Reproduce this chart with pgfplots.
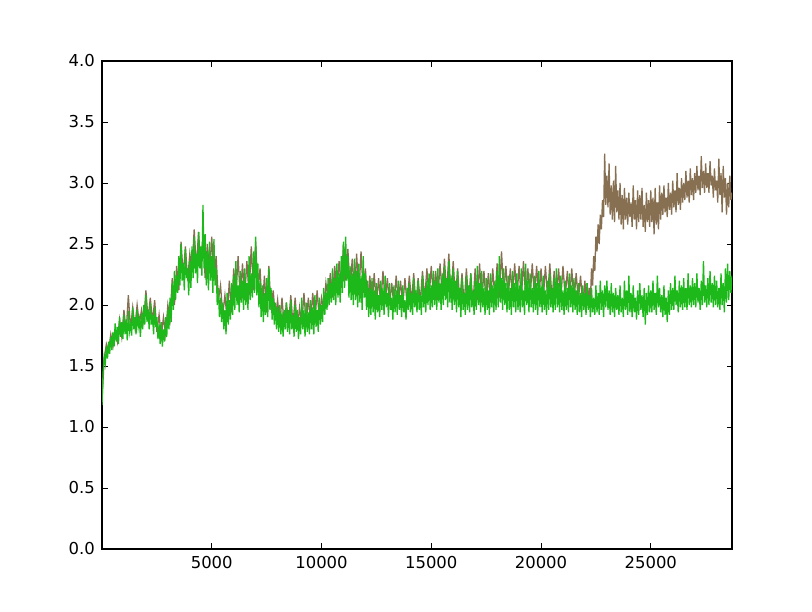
\documentclass[border=0pt]{standalone}
\usepackage{pgfplots}
\pgfplotsset{compat=1.18}
\usepackage{fontspec}
\setmainfont{DejaVu Sans}
\definecolor{mbrown}{RGB}{135,111,82}
\definecolor{mgreen}{RGB}{29,184,26}
\begin{document}
\begin{tikzpicture}
\path[use as bounding box] (-102bp,-63bp) rectangle (710bp,549bp);
\begin{axis}[
  at={(0,0)}, anchor=south west,
  scale only axis, width=630bp, height=488bp,
  xmin=0, xmax=28700, ymin=0, ymax=4,
  xtick={5000,10000,15000,20000,25000},
  ytick={0,0.5,1,1.5,2,2.5,3,3.5,4},
  /pgf/number format/1000 sep={},
  /pgf/number format/assume math mode=true,
  tick label style={font=\fontsize{16.5}{20}\selectfont},
  xticklabel style={inner sep=0pt, yshift=-7bp},
  yticklabel style={inner sep=0pt, xshift=-7bp, /pgf/number format/fixed, /pgf/number format/fixed zerofill, /pgf/number format/precision=1},
  tick align=inside,
  major tick length=5.5bp,
  every tick/.style={black, line width=0.7bp},
  axis line style={line width=1.2bp},
  scaled x ticks=false,
  clip=true,
]
\addplot[mbrown, line width=1.3bp] coordinates {
(0,1.22)(100,1.56)(200,1.68)(300,1.62)(400,1.76)(500,1.66)(600,1.80)(700,1.70)(800,1.88)(900,1.74)
(1000,1.96)(1100,1.78)(1200,2.08)(1300,1.80)(1400,1.98)(1500,1.82)(1600,2.00)(1700,1.84)(1800,1.96)(1900,1.86)
(2000,2.12)(2100,1.88)(2200,2.06)(2300,1.86)(2400,2.04)(2500,1.78)(2600,1.92)(2700,1.74)(2800,1.90)(2900,1.76)
(3000,2.00)(3100,1.88)(3200,2.22)(3300,2.00)(3400,2.32)(3500,2.12)(3600,2.52)(3700,2.24)(3800,2.48)(3900,2.20)
(4000,2.42)(4100,2.28)(4200,2.62)(4300,2.30)(4400,2.60)(4500,2.30)(4600,2.56)(4700,2.22)(4800,2.50)(4900,2.26)
(5000,2.56)(5100,2.20)(5200,2.40)(5300,2.04)(5400,2.16)(5500,1.92)(5600,2.08)(5700,1.88)(5800,2.20)(5900,1.94)
(6000,2.30)(6100,2.06)(6200,2.40)(6300,2.04)(6400,2.34)(6500,2.06)(6600,2.36)(6700,2.08)(6800,2.48)(6900,2.12)
(7000,2.52)(7100,2.12)(7200,2.30)(7300,1.96)(7400,2.24)(7500,1.94)(7600,2.32)(7700,1.96)(7800,2.12)(7900,1.88)
(8000,2.04)(8100,1.84)(8200,2.06)(8300,1.82)(8400,2.02)(8500,1.84)(8600,2.08)(8700,1.84)(8800,2.06)(8900,1.80)
(9000,1.98)(9100,1.84)(9200,2.10)(9300,1.84)(9400,2.06)(9500,1.86)(9600,2.10)(9700,1.86)(9800,2.12)(9900,1.88)
(10000,2.06)(10100,1.96)(10200,2.18)(10300,2.04)(10400,2.26)(10500,2.06)(10600,2.32)(10700,2.10)(10800,2.36)(10900,2.14)
(11000,2.50)(11100,2.20)(11200,2.46)(11300,2.12)(11400,2.38)(11500,2.10)(11600,2.42)(11700,2.08)(11800,2.44)(11900,2.10)
(12000,2.30)(12100,2.00)(12200,2.24)(12300,1.98)(12400,2.26)(12500,2.00)(12600,2.22)(12700,2.00)(12800,2.28)(12900,2.02)
(13000,2.22)(13100,2.00)(13200,2.18)(13300,1.98)(13400,2.24)(13500,2.02)(13600,2.20)(13700,1.98)(13800,2.22)(13900,2.00)
(14000,2.24)(14100,2.02)(14200,2.26)(14300,2.00)(14400,2.22)(14500,2.02)(14600,2.28)(14700,2.04)(14800,2.30)(14900,2.06)
(15000,2.32)(15100,2.06)(15200,2.28)(15300,2.04)(15400,2.34)(15500,2.08)(15600,2.38)(15700,2.08)(15800,2.42)(15900,2.06)
(16000,2.36)(16100,2.04)(16200,2.30)(16300,2.02)(16400,2.26)(16500,2.00)(16600,2.30)(16700,2.02)(16800,2.26)(16900,2.00)
(17000,2.30)(17100,2.04)(17200,2.34)(17300,2.02)(17400,2.28)(17500,2.00)(17600,2.26)(17700,2.02)(17800,2.30)(17900,2.04)
(18000,2.34)(18100,2.06)(18200,2.44)(18300,2.08)(18400,2.32)(18500,2.04)(18600,2.30)(18700,2.06)(18800,2.34)(18900,2.04)
(19000,2.32)(19100,2.04)(19200,2.36)(19300,2.06)(19400,2.30)(19500,2.04)(19600,2.34)(19700,2.06)(19800,2.32)(19900,2.04)
(20000,2.30)(20100,2.04)(20200,2.32)(20300,2.06)(20400,2.34)(20500,2.04)(20600,2.28)(20700,2.06)(20800,2.30)(20900,2.04)
(21000,2.32)(21100,2.06)(21200,2.28)(21300,2.04)(21400,2.30)(21500,2.02)(21600,2.26)(21700,2.04)(21800,2.24)(21900,2.00)
(22000,2.20)(22050,2.02)(22100,2.18)(22150,2.00)(22200,2.14)(22250,2.04)(22300,2.30)(22350,2.16)(22400,2.40)(22450,2.28)
(22500,2.56)(22550,2.44)(22600,2.66)(22650,2.50)(22700,2.74)(22750,2.62)(22800,2.86)(22850,2.72)(22900,3.24)(22950,2.82)
(23000,3.06)(23050,2.80)(23100,3.16)(23150,2.74)(23200,2.98)(23250,2.70)(23300,3.02)(23350,2.68)(23400,3.14)(23450,2.76)
(23500,2.94)(23550,2.70)(23600,3.00)(23650,2.66)(23700,2.90)(23750,2.62)(23800,2.96)(23850,2.70)(23900,2.88)(23950,2.66)
(24000,2.92)(24050,2.72)(24100,2.84)(24150,2.64)(24200,2.98)(24250,2.70)(24300,2.86)(24350,2.62)(24400,2.94)(24450,2.68)
(24500,2.90)(24550,2.70)(24600,2.96)(24650,2.64)(24700,2.82)(24750,2.60)(24800,2.92)(24850,2.68)(24900,2.86)(24950,2.64)
(25000,2.94)(25050,2.68)(25100,2.88)(25150,2.58)(25200,2.96)(25250,2.66)(25300,2.84)(25350,2.62)(25400,2.98)(25450,2.70)
(25500,2.92)(25550,2.74)(25600,2.98)(25650,2.76)(25700,2.88)(25750,2.72)(25800,3.00)(25850,2.78)(25900,2.92)(25950,2.74)
(26000,3.02)(26050,2.80)(26100,2.94)(26150,2.76)(26200,3.08)(26250,2.82)(26300,2.96)(26350,2.78)(26400,3.04)(26450,2.84)
(26500,3.00)(26550,2.86)(26600,3.10)(26650,2.88)(26700,3.02)(26750,2.84)(26800,3.12)(26850,2.90)(26900,3.04)(26950,2.86)
(27000,3.08)(27050,2.92)(27100,3.14)(27150,2.94)(27200,3.06)(27250,2.90)(27300,3.22)(27350,2.96)(27400,3.10)(27450,2.92)
(27500,3.16)(27550,2.96)(27600,3.08)(27650,2.92)(27700,3.18)(27750,2.98)(27800,3.06)(27850,2.88)(27900,3.12)(27950,2.94)
(28000,3.02)(28050,2.84)(28100,3.20)(28150,2.90)(28200,3.08)(28250,2.76)(28300,3.14)(28350,2.88)(28400,3.04)(28450,2.74)
(28500,3.00)(28550,2.80)(28600,3.06)(28650,2.86)(28700,2.92)
};
\addplot[mgreen, line width=1.3bp] coordinates {
(0,1.18)(50,1.45)(100,1.58)(150,1.52)(200,1.66)(250,1.56)(300,1.70)(350,1.60)(400,1.74)(450,1.63)
(500,1.78)(550,1.66)(600,1.85)(650,1.70)(700,1.82)(750,1.68)(800,1.90)(850,1.74)(900,1.86)(950,1.72)
(1000,1.92)(1050,1.76)(1100,1.88)(1150,1.71)(1200,1.95)(1250,1.78)(1300,1.84)(1350,1.75)(1400,1.98)(1450,1.80)
(1500,1.90)(1550,1.76)(1600,1.96)(1650,1.82)(1700,1.88)(1750,1.74)(1800,1.93)(1850,1.80)(1900,2.00)(1950,1.84)
(2000,2.08)(2050,1.86)(2100,1.96)(2150,1.80)(2200,2.02)(2250,1.84)(2300,1.92)(2350,1.76)(2400,1.98)(2450,1.82)
(2500,1.90)(2550,1.72)(2600,1.84)(2650,1.68)(2700,1.86)(2750,1.66)(2800,1.80)(2850,1.70)(2900,1.90)(2950,1.74)
(3000,1.96)(3050,1.80)(3100,2.06)(3150,1.86)(3200,2.18)(3250,1.96)(3300,2.28)(3350,2.04)(3400,2.24)(3450,2.10)
(3500,2.40)(3550,2.16)(3600,2.50)(3650,2.20)(3700,2.34)(3750,2.12)(3800,2.46)(3850,2.22)(3900,2.30)(3950,2.08)
(4000,2.36)(4050,2.14)(4100,2.48)(4150,2.22)(4200,2.56)(4250,2.26)(4300,2.42)(4350,2.18)(4400,2.60)(4450,2.30)
(4500,2.48)(4550,2.24)(4600,2.82)(4650,2.30)(4700,2.58)(4750,2.16)(4800,2.44)(4850,2.12)(4900,2.52)(4950,2.20)
(5000,2.40)(5050,2.10)(5100,2.54)(5150,2.16)(5200,2.30)(5250,2.00)(5300,2.14)(5350,1.90)(5400,2.06)(5450,1.86)
(5500,2.02)(5550,1.80)(5600,1.96)(5650,1.76)(5700,2.10)(5750,1.84)(5800,2.04)(5850,1.88)(5900,2.18)(5950,1.92)
(6000,2.24)(6050,1.96)(6100,2.36)(6150,2.00)(6200,2.16)(6250,1.94)(6300,2.28)(6350,2.02)(6400,2.20)(6450,1.96)
(6500,2.30)(6550,2.00)(6600,2.18)(6650,1.96)(6700,2.40)(6750,2.04)(6800,2.26)(6850,2.06)(6900,2.44)(6950,2.10)
(7000,2.56)(7050,2.08)(7100,2.34)(7150,1.98)(7200,2.20)(7250,1.90)(7300,2.16)(7350,1.86)(7400,2.10)(7450,1.92)
(7500,2.22)(7550,1.90)(7600,2.30)(7650,1.96)(7700,2.14)(7750,1.88)(7800,2.06)(7850,1.84)(7900,2.02)(7950,1.80)
(8000,1.98)(8050,1.78)(8100,2.00)(8150,1.76)(8200,1.94)(8250,1.74)(8300,1.96)(8350,1.80)(8400,2.02)(8450,1.78)
(8500,1.96)(8550,1.76)(8600,2.04)(8650,1.80)(8700,1.92)(8750,1.74)(8800,2.00)(8850,1.78)(8900,1.96)(8950,1.72)
(9000,1.90)(9050,1.76)(9100,2.06)(9150,1.80)(9200,1.96)(9250,1.74)(9300,2.02)(9350,1.78)(9400,1.94)(9450,1.76)
(9500,2.04)(9550,1.80)(9600,1.98)(9650,1.76)(9700,2.08)(9750,1.82)(9800,1.96)(9850,1.78)(9900,2.06)(9950,1.84)
(10000,2.00)(10050,1.86)(10100,2.14)(10150,1.92)(10200,2.10)(10250,1.96)(10300,2.22)(10350,2.00)(10400,2.18)(10450,2.02)
(10500,2.30)(10550,2.04)(10600,2.22)(10650,2.00)(10700,2.34)(10750,2.06)(10800,2.26)(10850,2.02)(10900,2.40)(10950,2.10)
(11000,2.52)(11050,2.14)(11100,2.56)(11150,2.20)(11200,2.40)(11250,2.06)(11300,2.32)(11350,2.04)(11400,2.26)(11450,2.00)
(11500,2.38)(11550,2.04)(11600,2.28)(11650,1.98)(11700,2.34)(11750,2.02)(11800,2.24)(11850,1.96)(11900,2.40)(11950,2.06)
(12000,2.26)(12050,1.96)(12100,2.20)(12150,1.90)(12200,2.14)(12250,1.92)(12300,2.22)(12350,1.94)(12400,2.12)(12450,1.88)
(12500,2.18)(12550,1.94)(12600,2.08)(12650,1.90)(12700,2.20)(12750,1.96)(12800,2.14)(12850,1.92)(12900,2.24)(12950,1.98)
(13000,2.10)(13050,1.90)(13100,2.18)(13150,1.96)(13200,2.06)(13250,1.88)(13300,2.16)(13350,1.94)(13400,2.12)(13450,1.92)
(13500,2.20)(13550,1.96)(13600,2.08)(13650,1.90)(13700,2.16)(13750,1.94)(13800,2.04)(13850,1.88)(13900,2.14)(13950,1.96)
(14000,2.18)(14050,1.94)(14100,2.10)(14150,1.92)(14200,2.22)(14250,1.98)(14300,2.12)(14350,1.94)(14400,2.20)(14450,1.96)
(14500,2.08)(14550,1.92)(14600,2.24)(14650,1.98)(14700,2.14)(14750,1.94)(14800,2.20)(14850,2.00)(14900,2.26)(14950,1.96)
(15000,2.16)(15050,1.98)(15100,2.28)(15150,2.00)(15200,2.20)(15250,1.96)(15300,2.30)(15350,2.02)(15400,2.18)(15450,1.96)
(15500,2.26)(15550,2.00)(15600,2.32)(15650,2.04)(15700,2.22)(15750,1.98)(15800,2.36)(15850,2.02)(15900,2.24)(15950,1.96)
(16000,2.30)(16050,2.00)(16100,2.20)(16150,1.94)(16200,2.28)(16250,1.98)(16300,2.14)(16350,1.90)(16400,2.22)(16450,1.96)
(16500,2.10)(16550,1.92)(16600,2.24)(16650,1.96)(16700,2.16)(16750,1.94)(16800,2.26)(16850,1.98)(16900,2.12)(16950,1.92)
(17000,2.20)(17050,1.96)(17100,2.32)(17150,2.00)(17200,2.18)(17250,1.94)(17300,2.28)(17350,1.98)(17400,2.14)(17450,1.92)
(17500,2.22)(17550,1.96)(17600,2.12)(17650,1.92)(17700,2.26)(17750,1.98)(17800,2.16)(17850,1.94)(17900,2.20)(17950,1.96)
(18000,2.28)(18050,1.98)(18100,2.40)(18150,2.02)(18200,2.22)(18250,1.96)(18300,2.30)(18350,2.00)(18400,2.18)(18450,1.94)
(18500,2.24)(18550,1.96)(18600,2.14)(18650,1.92)(18700,2.28)(18750,1.98)(18800,2.18)(18850,1.94)(18900,2.26)(18950,1.96)
(19000,2.16)(19050,1.94)(19100,2.30)(19150,1.98)(19200,2.12)(19250,1.92)(19300,2.34)(19350,2.00)(19400,2.20)(19450,1.94)
(19500,2.26)(19550,1.98)(19600,2.14)(19650,1.94)(19700,2.24)(19750,1.96)(19800,2.18)(19850,1.92)(19900,2.28)(19950,1.98)
(20000,2.16)(20050,1.94)(20100,2.24)(20150,1.96)(20200,2.12)(20250,1.92)(20300,2.20)(20350,1.96)(20400,2.26)(20450,1.98)
(20500,2.14)(20550,1.94)(20600,2.22)(20650,1.96)(20700,2.30)(20750,1.98)(20800,2.18)(20850,1.94)(20900,2.24)(20950,1.96)
(21000,2.12)(21050,1.92)(21100,2.20)(21150,1.96)(21200,2.14)(21250,1.94)(21300,2.26)(21350,1.98)(21400,2.16)(21450,1.94)
(21500,2.22)(21550,1.96)(21600,2.12)(21650,1.92)(21700,2.18)(21750,1.94)(21800,2.10)(21850,1.90)(21900,2.16)(21950,1.96)
(22000,2.10)(22050,1.92)(22100,2.18)(22150,1.96)(22200,2.08)(22250,1.90)(22300,2.14)(22350,1.94)(22400,2.06)(22450,1.92)
(22500,2.16)(22550,1.94)(22600,2.10)(22650,1.92)(22700,2.20)(22750,1.96)(22800,2.12)(22850,1.90)(22900,2.16)(22950,1.98)
(23000,2.20)(23050,1.96)(23100,2.12)(23150,1.92)(23200,2.18)(23250,1.94)(23300,2.10)(23350,1.90)(23400,2.14)(23450,1.96)
(23500,2.08)(23550,1.92)(23600,2.16)(23650,1.94)(23700,2.06)(23750,1.90)(23800,2.20)(23850,1.96)(23900,2.12)(23950,1.92)
(24000,2.24)(24050,1.94)(24100,2.10)(24150,1.90)(24200,2.16)(24250,1.94)(24300,2.06)(24350,1.88)(24400,2.12)(24450,1.92)
(24500,2.18)(24550,1.96)(24600,2.08)(24650,1.90)(24700,2.14)(24750,1.84)(24800,2.10)(24850,1.92)(24900,2.16)(24950,1.94)
(25000,2.12)(25050,1.94)(25100,2.20)(25150,1.96)(25200,2.10)(25250,1.92)(25300,2.24)(25350,1.98)(25400,2.14)(25450,1.94)
(25500,2.08)(25550,1.90)(25600,2.16)(25650,1.92)(25700,2.06)(25750,1.86)(25800,2.12)(25850,1.92)(25900,2.18)(25950,1.96)
(26000,2.14)(26050,1.96)(26100,2.24)(26150,2.00)(26200,2.12)(26250,1.94)(26300,2.20)(26350,1.98)(26400,2.16)(26450,1.96)
(26500,2.22)(26550,1.98)(26600,2.14)(26650,1.96)(26700,2.26)(26750,2.00)(26800,2.16)(26850,1.98)(26900,2.22)(26950,2.00)
(27000,2.18)(27050,1.98)(27100,2.26)(27150,2.02)(27200,2.14)(27250,1.96)(27300,2.20)(27350,2.00)(27400,2.36)(27450,2.02)
(27500,2.16)(27550,1.98)(27600,2.22)(27650,2.00)(27700,2.28)(27750,2.02)(27800,2.18)(27850,1.98)(27900,2.24)(27950,2.00)
(28000,2.20)(28050,1.98)(28100,2.14)(28150,1.96)(28200,2.26)(28250,2.00)(28300,2.18)(28350,1.94)(28400,2.30)(28450,2.02)
(28500,2.34)(28550,2.04)(28600,2.28)(28650,2.10)(28700,2.24)
};
\end{axis}
\end{tikzpicture}
\end{document}
